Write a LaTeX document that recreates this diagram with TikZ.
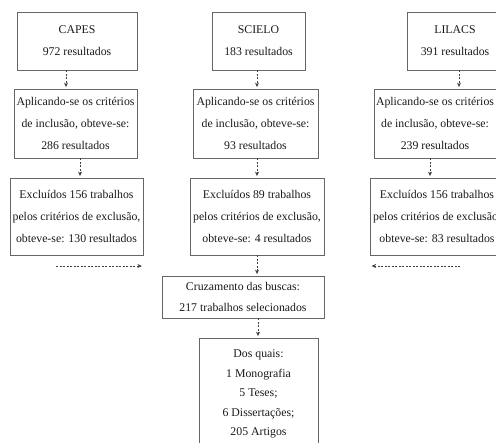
\documentclass[tikz,border=0pt]{standalone}
\usepackage{fontspec}
\setmainfont{Liberation Serif}
\usetikzlibrary{arrows.meta}
\tikzset{
  caixa/.style={draw=black!60, line width=0.8pt, align=center, inner sep=0pt,
    font=\fontsize{11.8}{21.8}\selectfont, text=black!90},
  seta/.style={draw=black!75, line width=0.7pt, dash pattern=on 2pt off 1.5pt,
    -{Stealth[length=4.5pt,width=4pt]}, shorten >=1.5pt},
}

\begin{document}
\begin{tikzpicture}[x=1pt,y=-1pt]
  \useasboundingbox (0,0) rectangle (496,443);
  \clip (0,0) rectangle (496,443);
  % bases de dados
  \node[caixa, minimum width=120pt, minimum height=58pt] (capes) at (77,41) {CAPES\\972 resultados};
  \node[caixa, minimum width=93pt, minimum height=58pt] (scielo) at (258.5,41) {SCIELO\\183 resultados};
  \node[caixa, minimum width=96pt, minimum height=58pt] (lilacs) at (455,41) {LILACS\\391 resultados};
  % inclusao
  \node[caixa, minimum width=123pt, minimum height=69pt] (incl1) at (75.5,123.5) {Aplicando-se os crit\'erios\\de inclus\~ao, obteve-se:\\286 resultados};
  \node[caixa, minimum width=125pt, minimum height=69pt] (incl2) at (255.5,123.5) {Aplicando-se os crit\'erios\\de inclus\~ao, obteve-se:\\93 resultados};
  \node[caixa, minimum width=122pt, minimum height=69pt] (incl3) at (435,123.5) {Aplicando-se os crit\'erios\\de inclus\~ao, obteve-se:\\239 resultados};
  % exclusao
  \node[caixa, minimum width=133pt, minimum height=77pt] (excl1) at (76.5,216.5) {Exclu\'idos 156 trabalhos\\pelos crit\'erios de exclus\~ao,\\obteve-se: 130 resultados};
  \node[caixa, minimum width=134pt, minimum height=77pt] (excl2) at (257,216.5) {Exclu\'idos 89 trabalhos\\pelos crit\'erios de exclus\~ao,\\obteve-se: 4 resultados};
  \node[caixa, minimum width=133pt, minimum height=77pt] (excl3) at (437,216.5) {Exclu\'idos 156 trabalhos\\pelos crit\'erios de exclus\~ao,\\obteve-se: 83 resultados};
  % resultado final
  \node[caixa, minimum width=162pt, minimum height=42pt] (cruz) at (243,297) {Cruzamento das buscas:\\217 trabalhos selecionados};
  \node[caixa, font=\fontsize{11.8}{19.6}\selectfont, minimum width=119pt, minimum height=112pt] (dos) at (258.5,394) {Dos quais:\\1 Monografia\\5 Teses;\\6 Disserta\c{c}\~oes;\\205 Artigos};

  \draw[seta] ([xshift=-11pt]capes.south) -- ([xshift=-11pt]capes.south |- incl1.north);
  \draw[seta] ([xshift=-1.5pt]scielo.south) -- ([xshift=-1.5pt]scielo.south |- incl2.north);
  \draw[seta] ([xshift=4pt]lilacs.south) -- ([xshift=4pt]lilacs.south |- incl3.north);
  \draw[seta] ([xshift=4.5pt]incl1.south) -- ([xshift=4.5pt]incl1.south |- excl1.north);
  \draw[seta] ([xshift=1.5pt]incl2.south) -- ([xshift=1.5pt]incl2.south |- excl2.north);
  \draw[seta] ([xshift=-5pt]incl3.south) -- ([xshift=-5pt]incl3.south |- excl3.north);
  \draw[seta] (excl2.south) -- (excl2.south |- cruz.north);
  \draw[seta] ([xshift=15pt]cruz.south) -- ([xshift=15pt]cruz.south |- dos.north);
  % setas laterais
  \coordinate (esqA) at (56,266);
  \coordinate (dirA) at (460,266);
  \draw[seta] (esqA) -- (esqA -| excl1.east);
  \draw[seta] (dirA) -- (dirA -| excl3.west);
\end{tikzpicture}
\end{document}
